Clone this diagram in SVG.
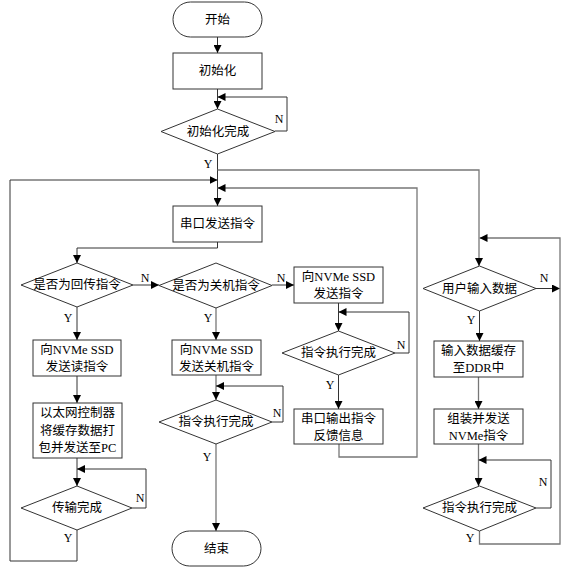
<svg xmlns="http://www.w3.org/2000/svg" width="582" height="577" viewBox="0 0 582 577">
<defs>
<marker id="ah" viewBox="0 0 10 10" refX="10" refY="5" markerWidth="8" markerHeight="8" markerUnits="userSpaceOnUse" orient="auto">
<path d="M0,0 L10,5 L0,10 z" fill="#000"/>
</marker>
<style>
.s{fill:#fff;stroke:#333;stroke-width:1}
.l{fill:none;stroke:#333;stroke-width:1}
.g{fill:none;stroke:#777;stroke-width:1.3}
.a{marker-end:url(#ah)}
text{font-family:"Liberation Serif","Noto Sans CJK SC",serif;font-size:12.5px;fill:#000;text-anchor:middle;dominant-baseline:central}
.lb{font-size:12px}
</style>
</defs>
<rect width="582" height="577" fill="#fff"/>
<g id="connectors">
<path class="l a" d="M217.5,37 V53"/>
<path class="l a" d="M217.5,89 V109"/>
<path class="l a" d="M275,131 H287 V97 H217.5"/>
<path class="l a" d="M217.5,154 V206"/>
<path class="g a" d="M217.5,170 H479 V266"/>
<path class="l a" d="M77,530 V561 H10 V180 H217.5"/>
<path class="g a" d="M339,444 V457 H417 V188 H217.5"/>
<path class="l a" d="M217.5,242 V248 H77 V263"/>
<path class="l a" d="M133,285 H159"/>
<path class="l a" d="M272,285 H294"/>
<path class="l a" d="M77,307 V340"/>
<path class="g a" d="M216,308 V340"/>
<path class="l a" d="M77,376 V403"/>
<path class="l a" d="M77,458 V486"/>
<path class="l a" d="M132,508 H146 V469 H77"/>
<path class="g a" d="M216,375 V400"/>
<path class="l a" d="M272,422 H283 V386 H216"/>
<path class="g a" d="M216,444 V531"/>
<path class="l a" d="M338.5,303 V331"/>
<path class="l a" d="M395,353 H409 V312 H338.5"/>
<path class="l a" d="M338.5,375 V409"/>
<path class="l a" d="M536,288.5 H560"/>
<path class="g a" d="M479.5,531 V544 H560 V238 H479.5"/>
<path class="l a" d="M479.5,311 V341"/>
<path class="g a" d="M478.5,377 V409"/>
<path class="g a" d="M478.5,444 V486"/>
<path class="l a" d="M536,508 H551 V460 H478.5"/>
</g>
<g id="start"><rect class="s" x="173" y="2" width="89" height="35" rx="17.5"/><text x="217.5" y="19.5">开始</text></g>
<g id="init"><rect class="s" x="173" y="53" width="89" height="36"/><text x="217.5" y="71">初始化</text></g>
<g id="initDone"><polygon class="s" points="217.5,109 275,131.5 217.5,154 161,131.5"/><text x="218" y="131.5">初始化完成</text></g>
<g id="serialSend"><rect class="s" x="173" y="206" width="89" height="36"/><text x="217.5" y="224">串口发送指令</text></g>
<g id="isReturn"><polygon class="s" points="77,263 133,285 77,307 21,285"/><text x="77" y="285">是否为回传指令</text></g>
<g id="isShutdown"><polygon class="s" points="216,263 272,285.5 216,308 159,285.5"/><text x="216" y="285.5">是否为关机指令</text></g>
<g id="sendCmd"><rect class="s" x="294" y="267" width="89" height="36"/><text x="338.5" y="277">向NVMe SSD</text><text x="338.5" y="294">发送指令</text></g>
<g id="midDone"><polygon class="s" points="338.5,331 395,353 338.5,375 282,353"/><text x="338.5" y="353">指令执行完成</text></g>
<g id="serialOut"><rect class="s" x="294" y="409" width="89" height="35"/><text x="338.5" y="418.5">串口输出指令</text><text x="338.5" y="435.5">反馈信息</text></g>
<g id="sendRead"><rect class="s" x="33" y="340" width="88" height="36"/><text x="77" y="350">向NVMe SSD</text><text x="77" y="367">发送读指令</text></g>
<g id="ethernet"><rect class="s" x="33" y="403" width="89" height="55"/><text x="77.5" y="413">以太网控制器</text><text x="77.5" y="430.5">将缓存数据打</text><text x="77.5" y="448">包并发送至PC</text></g>
<g id="transDone"><polygon class="s" points="77,486 132,508 77,530 21,508"/><text x="77" y="508">传输完成</text></g>
<g id="sendShutdown"><rect class="s" x="172" y="340" width="89" height="35"/><text x="216.5" y="349.5">向NVMe SSD</text><text x="216.5" y="366.5">发送关机指令</text></g>
<g id="shutDone"><polygon class="s" points="216,400 272,422 216,444 159,422"/><text x="216" y="422">指令执行完成</text></g>
<g id="end"><rect class="s" x="172" y="531" width="89" height="35" rx="17.5"/><text x="216.5" y="548.5">结束</text></g>
<g id="userInput"><polygon class="s" points="479.5,266 536,288.5 479.5,311 423,288.5"/><text x="479.5" y="288.5">用户输入数据</text></g>
<g id="cacheDDR"><rect class="s" x="434" y="341" width="89" height="36"/><text x="478.5" y="350.5">输入数据缓存</text><text x="478.5" y="367.5">至DDR中</text></g>
<g id="assemble"><rect class="s" x="434" y="409" width="89" height="35"/><text x="478.5" y="418.5">组装并发送</text><text x="478.5" y="435.5">NVMe指令</text></g>
<g id="rightDone"><polygon class="s" points="479.5,486 536,508 479.5,531 423,508"/><text x="479.5" y="508">指令执行完成</text></g>
<g id="labels">
<text class="lb" x="279" y="119">N</text>
<text class="lb" x="208" y="164">Y</text>
<text class="lb" x="145" y="278">N</text>
<text class="lb" x="281" y="278">N</text>
<text class="lb" x="68" y="318">Y</text>
<text class="lb" x="208" y="318">Y</text>
<text class="lb" x="401" y="345">N</text>
<text class="lb" x="330" y="385">Y</text>
<text class="lb" x="277" y="413">N</text>
<text class="lb" x="207" y="457">Y</text>
<text class="lb" x="140" y="498">N</text>
<text class="lb" x="68" y="538">Y</text>
<text class="lb" x="544" y="278">N</text>
<text class="lb" x="471" y="320">Y</text>
<text class="lb" x="543" y="482">N</text>
<text class="lb" x="470" y="538">Y</text>
</g>
</svg>
